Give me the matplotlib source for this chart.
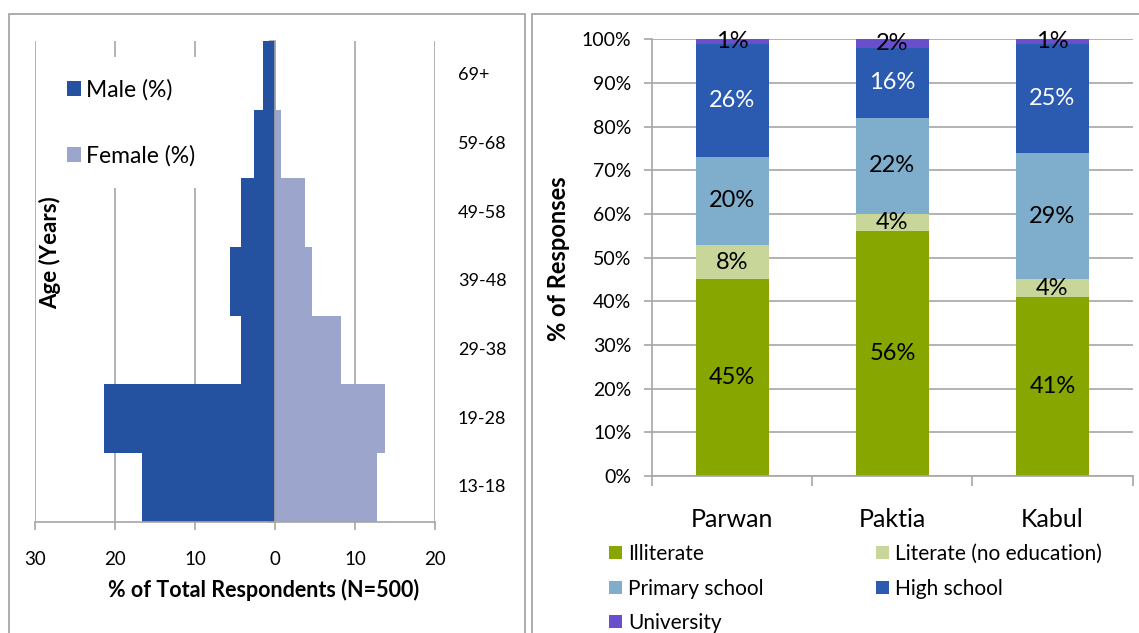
import matplotlib.pyplot as plt
import numpy as np
from matplotlib.patches import Rectangle

plt.rcParams['font.family'] = ['Lato', 'DejaVu Sans']

W, H = 1139, 633

# left chart: age pyramid (% of respondents)
ages = ["13-18", "19-28", "29-38", "39-48", "49-58", "59-68", "69+"]
male = [16.6, 21.4, 4.2, 5.6, 4.2, 2.6, 1.5]
female = [12.8, 13.8, 8.2, 4.6, 3.8, 0.8, 0.0]

# right chart: education level by province (%)
provinces = ["Parwan", "Paktia", "Kabul"]
levels = ["Illiterate", "Literate (no education)", "Primary school", "High school", "University"]
illiterate = [45, 56, 41]
literate = [8, 4, 4]
primary = [20, 22, 29]
high_school = [26, 16, 25]
university = [1, 2, 1]

grey = '#A6A6A6'


def box(x0, y0, x1, y1):
    # pixel box (top-left origin) -> figure fraction rect
    return [x0 / W, 1 - y1 / H, (x1 - x0) / W, (y1 - y0) / H]


fig = plt.figure(figsize=(W / 100, H / 100), dpi=100)

# chart area borders
for x0, x1 in [(9, 525), (532, 1160)]:
    fig.add_artist(Rectangle((x0 / W, -0.05), (x1 - x0) / W, 1.05 - 14 / H,
                             transform=fig.transFigure, fill=False,
                             edgecolor='#A0A0A0', lw=1.2))

# ---- left: pyramid ----
ax1 = fig.add_axes(box(35, 41, 435, 521.7))
y = np.arange(len(ages))
ax1.barh(y, -np.array(male), height=1.0, color='#2452A0', label='Male (%)')
ax1.barh(y, female, height=1.0, color='#9CA5CC', label='Female (%)')
ax1.set_xlim(-30, 20)
ax1.set_ylim(-0.5, len(ages) - 0.5)
xt = list(range(-30, 21, 10))
ax1.set_xticks(xt)
ax1.set_xticklabels([str(abs(v)) for v in xt])
ax1.set_yticks(np.arange(-0.5, len(ages), 0.5))
ax1.set_yticklabels([])
for s in ['top', 'right']:
    ax1.spines[s].set_visible(False)
ax1.spines['left'].set_position(('data', 0))
for s in ['left', 'bottom']:
    ax1.spines[s].set_color(grey)
    ax1.spines[s].set_linewidth(1.2)
ax1.tick_params(axis='y', length=4, width=1.2, color=grey)
ax1.tick_params(axis='x', length=6, width=1.2, color=grey, pad=15, labelsize=13.5)
ax1.grid(axis='x', color=grey, lw=1.2)
ax1.set_axisbelow(True)
for i, a in enumerate(ages):
    ax1.text(1.0575, i, a, transform=ax1.get_yaxis_transform(),
             ha='left', va='center', fontsize=13)

fig.text(264 / W, 1 - 590 / H, '% of Total Respondents (N=500)', ha='center',
         va='center', fontsize=15.5, fontweight='bold')
fig.text(50 / W, 1 - 253 / H, 'Age (Years)', rotation=90, ha='center',
         va='center', fontsize=16, fontweight='bold')
leg1 = fig.legend(loc='upper left', bbox_to_anchor=(45 / W, 1 - 57 / H),
                  borderaxespad=0, borderpad=0.95, fontsize=16.5,
                  handlelength=0.61, handleheight=0.61, handletextpad=0.25,
                  labelspacing=1.95, frameon=True, fancybox=False)
leg1.get_frame().set_facecolor('white')
leg1.get_frame().set_edgecolor('none')
leg1.get_frame().set_alpha(1)

# ---- right: stacked bars ----
ax2 = fig.add_axes(box(652.3, 39.3, 1132.5, 476))
x = np.arange(len(provinces))
series = [illiterate, literate, primary, high_school, university]
colors = ['#87A600', '#C8D69A', '#7FADCC', '#2B5BB0', '#6A4FCC']
text_colors = ['black', 'black', 'black', 'white', 'black']
bottom = np.zeros(len(provinces))
handles = []
for name, vals, col, tc in zip(levels, series, colors, text_colors):
    bars = ax2.bar(x, vals, width=0.46, bottom=bottom, color=col, label=name)
    ax2.bar_label(bars, labels=[f'{v}%' for v in vals], label_type='center',
                  color=tc, fontsize=17)
    bottom += np.array(vals)
    handles.append(bars)
ax2.set_xlim(-0.5, len(provinces) - 0.5)
ax2.set_ylim(0, 100)
ax2.set_yticks(range(0, 101, 10))
ax2.set_yticklabels([f'{v}%' for v in range(0, 101, 10)])
ax2.set_xticks(x)
ax2.set_xticklabels(provinces)
ax2.set_xticks(np.arange(-0.5, len(provinces), 1.0), minor=True)
ax2.tick_params(axis='x', which='major', length=0, pad=23, labelsize=18)
ax2.tick_params(axis='x', which='minor', length=7, width=1.2, color=grey)
ax2.tick_params(axis='y', length=6, width=1.2, color=grey, pad=9, labelsize=14)
for s in ['top', 'right']:
    ax2.spines[s].set_visible(False)
for s in ['left', 'bottom']:
    ax2.spines[s].set_color(grey)
    ax2.spines[s].set_linewidth(1.2)
ax2.grid(axis='y', color=grey, lw=1.2)
ax2.set_axisbelow(True)

fig.text(558 / W, 1 - 259 / H, '% of Responses', rotation=90, ha='center',
         va='center', fontsize=17, fontweight='bold')

order = [0, 2, 4, 1, 3]
leg2 = fig.legend([handles[i] for i in order], [levels[i] for i in order],
                  ncol=2, loc='upper left', bbox_to_anchor=(605 / W, 1 - 540 / H),
                  borderaxespad=0, borderpad=0.2, fontsize=15, frameon=False,
                  handlelength=0.6, handleheight=0.6, handletextpad=0.3,
                  labelspacing=0.69, columnspacing=5.4)

fig.savefig('out.png', dpi=100)
